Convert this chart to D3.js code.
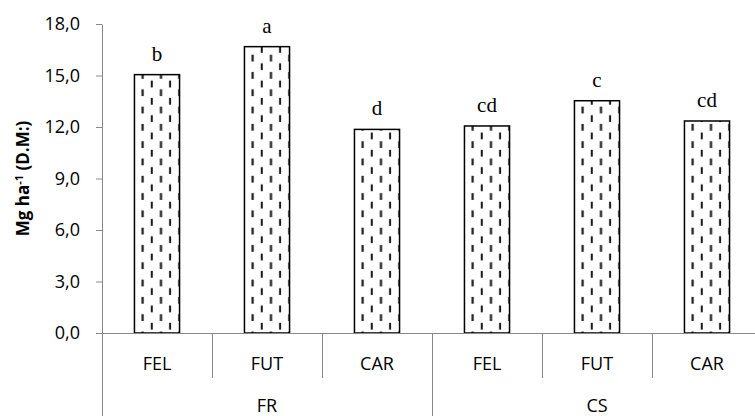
<html>
<script src="https://d3js.org/d3.v7.min.js"></script>
<body style="margin:0;background:#fff">
</body>
<script>
    // chart data
    let groups = ["FR", "CS"];
    let treatments = ["FEL", "FUT", "CAR"];
    let values = [15.05, 16.68, 11.86, 12.06, 13.53, 12.35];
    let letters = ["b", "a", "d", "cd", "c", "cd"];
    let yTicks = [0, 3, 6, 9, 12, 15, 18];

    // one row per bar
    let rows = [];
    groups.forEach((g, gi) => treatments.forEach((t, ti) => {
        let i = gi * treatments.length + ti;
        rows.push({key: g + "-" + t, group: g, cat: t, value: values[i], letter: letters[i]});
    }));

    let W = 755, H = 416;
    let plotLeft = 102, plotRight = 762, plotTop = 24, plotBottom = 333;
    let axisColor = "#898989";
    let sans = "'Open Sans', sans-serif";

    let svg = d3.select("body").append("svg")
        .attr("width", W)
        .attr("height", H)
        .style("display", "block");

    let x = d3.scaleBand()
        .domain(rows.map(d => d.key))
        .range([plotLeft, plotRight])
        .paddingInner(0.59)
        .paddingOuter(0.295);

    let y = d3.scaleLinear()
        .domain([0, 18])
        .range([plotBottom, plotTop]);

    let step = x.step();

    // dashed vertical fill pattern, tile = step/6 so every bar gets same phase
    let defs = svg.append("defs");
    let pat = defs.append("pattern")
        .attr("id", "dash")
        .attr("patternUnits", "userSpaceOnUse")
        .attr("x", x(rows[0].key))
        .attr("y", 0)
        .attr("width", step / 6)
        .attr("height", 17.3);
    pat.append("rect").attr("width", step / 6).attr("height", 17.3).attr("fill", "#fff");
    pat.append("rect").attr("x", 7.1).attr("y", 2.8).attr("width", 2.2).attr("height", 6.8).attr("fill", "#1a1a1a");
    pat.append("rect").attr("x", 16.3).attr("y", 11.4).attr("width", 2.2).attr("height", 6.8).attr("fill", "#1a1a1a");
    pat.append("rect").attr("x", 16.3).attr("y", -5.9).attr("width", 2.2).attr("height", 6.8).attr("fill", "#1a1a1a");

    // y axis
    let fmt = d => d3.format(".1f")(d).replace(".", ",");
    let yAxis = svg.append("g")
        .attr("transform", "translate(" + plotLeft + ",0)")
        .call(d3.axisLeft(y).tickValues(yTicks).tickFormat(fmt).tickSize(6).tickSizeOuter(0).tickPadding(16));
    yAxis.select(".domain").attr("stroke", axisColor);
    yAxis.selectAll(".tick line").attr("stroke", axisColor);
    yAxis.selectAll(".tick text")
        .attr("fill", "#000")
        .style("font-family", sans)
        .style("font-size", "18px");

    // bars
    svg.selectAll("rect.bar")
        .data(rows)
        .enter().append("rect")
        .attr("class", "bar")
        .attr("x", d => x(d.key))
        .attr("y", d => y(d.value))
        .attr("width", x.bandwidth())
        .attr("height", d => y(0) - y(d.value))
        .attr("fill", "url(#dash)")
        .attr("stroke", "#000")
        .attr("stroke-width", 1.5);

    // significance letters
    svg.selectAll("text.letter")
        .data(rows)
        .enter().append("text")
        .attr("class", "letter")
        .attr("x", d => x(d.key) + x.bandwidth() / 2)
        .attr("y", d => y(d.value) - 14)
        .attr("text-anchor", "middle")
        .style("font-family", "'Liberation Serif', 'Times New Roman', serif")
        .style("font-size", "21px")
        .text(d => d.letter);

    // x axis line
    svg.append("line")
        .attr("x1", plotLeft - 6)
        .attr("x2", plotRight)
        .attr("y1", y(0) + 0.5)
        .attr("y2", y(0) + 0.5)
        .attr("stroke", axisColor);

    // category separators, longer at group borders
    let bounds = d3.range(rows.length + 1);
    svg.selectAll("line.sep")
        .data(bounds)
        .enter().append("line")
        .attr("class", "sep")
        .attr("x1", i => plotLeft + i * step + 0.5)
        .attr("x2", i => plotLeft + i * step + 0.5)
        .attr("y1", y(0))
        .attr("y2", i => i % treatments.length === 0 ? H : 378)
        .attr("stroke", axisColor);

    // category labels
    svg.selectAll("text.cat")
        .data(rows)
        .enter().append("text")
        .attr("class", "cat")
        .attr("x", d => x(d.key) + x.bandwidth() / 2)
        .attr("y", 370)
        .attr("text-anchor", "middle")
        .style("font-family", sans)
        .style("font-size", "18px")
        .text(d => d.cat);

    // group labels
    svg.selectAll("text.grp")
        .data(groups)
        .enter().append("text")
        .attr("class", "grp")
        .attr("x", (g, gi) => plotLeft + (gi + 0.5) * treatments.length * step)
        .attr("y", 412)
        .attr("text-anchor", "middle")
        .style("font-family", sans)
        .style("font-size", "18px")
        .text(g => g);

    // y axis title
    let title = svg.append("text")
        .attr("transform", "translate(29," + (plotTop + plotBottom) / 2 + ") rotate(-90)")
        .attr("text-anchor", "middle")
        .style("font-family", sans)
        .style("font-size", "17px")
        .style("font-weight", "bold");
    title.append("tspan").text("Mg ha");
    title.append("tspan").attr("dy", -6).style("font-size", "11px").text("-1");
    title.append("tspan").attr("dy", 6).text(" (D.M:)");
</script>
</html>
